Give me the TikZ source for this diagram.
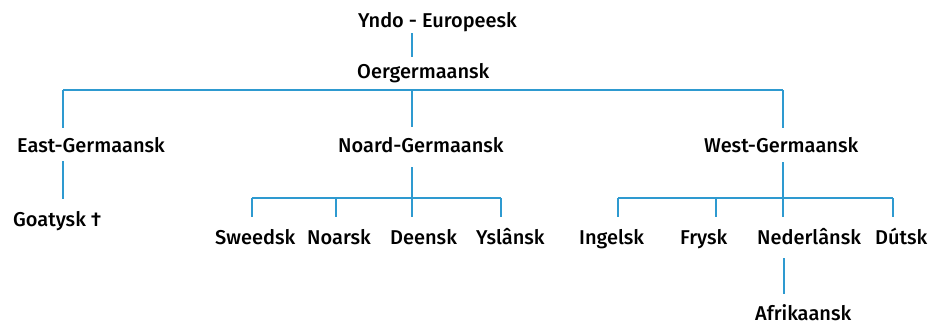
\documentclass[tikz,border=0pt]{standalone}
\usepackage{fontspec}
\setmainfont{Fira Sans Medium}
\definecolor{linecol}{HTML}{2E9AD0}
\begin{document}
\begin{tikzpicture}[x=1pt,y=-1pt,
  lang/.style={anchor=base west, inner sep=0pt, font=\fontsize{20}{22}\selectfont},
  conn/.style={draw=linecol, line width=1.1pt}]
\useasboundingbox (0,0) rectangle (929,327);
% texts
\node[lang] (yndo)  at (358,27)  {Yndo - Europeesk};
\node[lang] (oer)   at (357,78)  {Oergermaansk};
\node[lang] (east)  at (17,152)  {East-Germaansk};
\node[lang] (goat)  at (13,226)  {Goatysk †};
\node[lang] (noard) at (338,152) {Noard-Germaansk};
\node[lang] (west)  at (704,152) {West-Germaansk};
\node[lang] (swe)   at (215,244) {Sweedsk};
\node[lang] (noa)   at (307,244) {Noarsk};
\node[lang] (dee)   at (390,244) {Deensk};
\node[lang] (ysl)   at (476,244) {Yslânsk};
\node[lang] (ing)   at (579,244) {Ingelsk};
\node[lang] (fry)   at (680,244) {Frysk};
\node[lang] (ned)   at (757,244) {Nederlânsk};
\node[lang] (dut)   at (875,244) {Dútsk};
\node[lang] (afr)   at (755,320) {Afrikaansk};
% connector coordinates
\coordinate (yndoB) at (412,33);
\coordinate (oerT)  at (412,57);
\coordinate (topL)  at (63,90);
\coordinate (topM)  at (412,90);
\coordinate (topR)  at (783,90);
\coordinate (eastT) at (63,128);
\coordinate (noardT) at (412,127);
\coordinate (westT) at (783,128);
\coordinate (eastB) at (63,161);
\coordinate (goatT) at (63,199);
\coordinate (noardB) at (412,167);
\coordinate (nL) at (252,198);
\coordinate (nR) at (501,198);
\coordinate (nM) at (412,198);
\coordinate (nNoa) at (336,198);
\coordinate (sweT) at (252,217);
\coordinate (noaT) at (336,217);
\coordinate (deeT) at (412,217);
\coordinate (yslT) at (501,217);
\coordinate (westB) at (783,162);
\coordinate (wL) at (618,198);
\coordinate (wR) at (893,198);
\coordinate (wFry) at (716,198);
\coordinate (ingT) at (618,217);
\coordinate (fryT) at (716,217);
\coordinate (nedT) at (783,217);
\coordinate (dutT) at (893,217);
\coordinate (nedB) at (784,258);
\coordinate (afrT) at (784,294);
% connectors
\draw[conn] (yndoB) -- (oerT);
\draw[conn] (topL) -- (topR);
\draw[conn] (topL) -- (eastT);
\draw[conn] (topM) -- (noardT);
\draw[conn] (topR) -- (westT);
\draw[conn] (eastB) -- (goatT);
\draw[conn] (noardB) -- (deeT);
\draw[conn] (nL) -- (nR);
\draw[conn] (nL) -- (sweT);
\draw[conn] (nNoa) -- (noaT);
\draw[conn] (nR) -- (yslT);
\draw[conn] (westB) -- (nedT);
\draw[conn] (wL) -- (wR);
\draw[conn] (wL) -- (ingT);
\draw[conn] (wFry) -- (fryT);
\draw[conn] (wR) -- (dutT);
\draw[conn] (nedB) -- (afrT);
\end{tikzpicture}
\end{document}
